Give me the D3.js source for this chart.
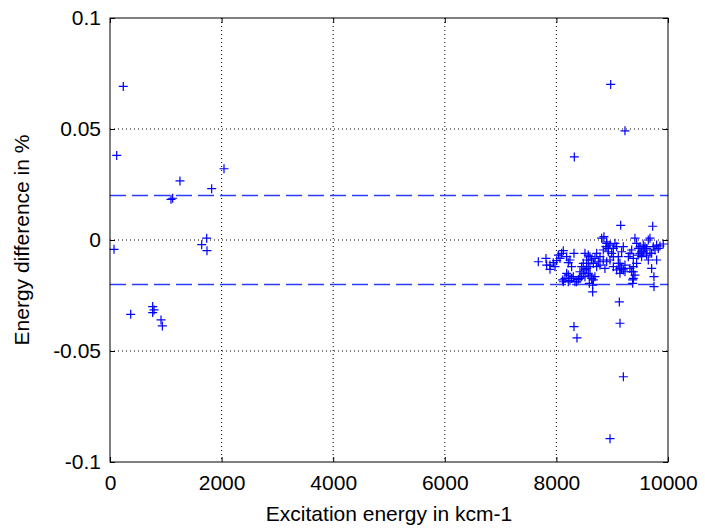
<!DOCTYPE html>
<html>
<head>
<meta charset="utf-8">
<script src="https://cdn.jsdelivr.net/npm/d3@7"></script>
<style>
  body { margin: 0; background: #fff; }
  text { font-family: "Liberation Sans", Arial, sans-serif; }
</style>
</head>
<body>
<div id="chart"></div>
<script>
const width = 705, height = 530;
const margin = { top: 18, right: 37, bottom: 68, left: 110 };

// tick values
const xTicks = [0, 2000, 4000, 6000, 8000, 10000];
const yTicks = [-0.1, -0.05, 0, 0.05, 0.1];
// dashed limit lines
const limits = [0.02, -0.02];

// low-energy points [excitation, difference]
const lowPoints = [
  [238, 0.0692], [120, 0.0381], [1254, 0.0266], [1822, 0.0231], [2043, 0.0321],
  [1093, 0.0183], [1123, 0.0188], [72, -0.0042], [1643, -0.0021], [1733, 0.0008],
  [1738, -0.0048], [371, -0.0335], [765, -0.0300], [789, -0.0315], [765, -0.0327],
  [914, -0.0360], [938, -0.0387]
];

// isolated points in the high range
const outliers = [
  [8973, 0.0701], [9229, 0.0492], [8321, 0.0374], [9152, 0.0066], [9726, 0.0062],
  [8650, -0.0234], [9128, -0.0279], [9140, -0.0375], [8315, -0.0390], [8369, -0.0441],
  [9200, -0.0616], [8961, -0.0895], [9749, -0.0210]
];

// dense cluster 7600-9900
const cluster = [
  [7676, -0.0098], [7813, -0.0083], [7825, -0.0113], [7885, -0.0132], [7944, -0.0102],
  [8005, -0.0093], [7975, -0.0120], [7885, -0.0113], [8094, -0.0060], [8124, -0.0048],
  [8184, -0.0075], [8243, -0.0090], [8315, -0.0060], [8213, -0.0102], [8273, -0.0120],
  [8112, -0.0180], [8154, -0.0173], [8213, -0.0158], [8243, -0.0183], [8303, -0.0165],
  [8363, -0.0188], [8393, -0.0177], [8422, -0.0173], [8184, -0.0150], [8124, -0.0188],
  [8512, -0.0060], [8572, -0.0068], [8602, -0.0075], [8632, -0.0090], [8662, -0.0105],
  [8691, -0.0083], [8722, -0.0060], [8751, -0.0098], [8482, -0.0105], [8453, -0.0120],
  [8512, -0.0135], [8542, -0.0128], [8572, -0.0150], [8602, -0.0158], [8632, -0.0173],
  [8662, -0.0180], [8691, -0.0165], [8422, -0.0143], [8482, -0.0150], [8722, -0.0120],
  [8781, -0.0113], [8650, -0.0203], [8590, -0.0195], [8811, 0.0008], [8852, 0.0015],
  [8888, -0.0030], [8901, -0.0015], [8930, -0.0053], [8840, -0.0045], [8960, -0.0023],
  [8990, -0.0060], [9020, -0.0038], [9050, -0.0015], [9080, -0.0030], [9110, -0.0075],
  [9139, -0.0105], [9169, -0.0128], [9199, -0.0135], [9229, -0.0113], [8960, -0.0090],
  [8901, -0.0098], [8870, -0.0128], [9020, -0.0120], [9080, -0.0135], [9139, -0.0150],
  [9199, -0.0030], [9169, -0.0053], [9289, -0.0075], [9318, -0.0060], [9349, -0.0045],
  [9378, -0.0083], [9408, 0.0008], [9438, -0.0015], [9468, -0.0038], [9498, -0.0060],
  [9528, -0.0053], [9557, -0.0023], [9587, -0.0045], [9617, -0.0068], [9318, -0.0128],
  [9349, -0.0143], [9378, -0.0120], [9408, -0.0158], [9367, -0.0180], [9438, -0.0105],
  [9647, 0.0000], [9677, 0.0008], [9647, -0.0090], [9707, -0.0128], [9736, -0.0030],
  [9766, -0.0045], [9796, -0.0023], [9826, -0.0038], [9856, -0.0027], [9915, -0.0018],
  [9796, -0.0090], [9748, -0.0165], [9707, -0.0060], [9677, -0.0060],
  [8901, -0.0008], [8930, -0.0038], [9020, -0.0075], [8781, -0.0075], [8840, -0.0090],
  [9498, -0.0030], [9557, -0.0053], [9528, -0.0075], [9587, -0.0030], [9468, -0.0068],
  [9617, -0.0038], [8542, -0.0090], [8602, -0.0120], [8572, -0.0105], [8512, -0.0165],
  [8453, -0.0165], [8333, -0.0188], [8273, -0.0173], [8213, -0.0188], [8064, -0.0083],
  [8035, -0.0068], [9378, -0.0143], [9378, -0.0173], [9367, -0.0195], [9139, -0.0128],
  [9110, -0.0105], [9229, -0.0143]
];

const points = lowPoints.concat(outliers, cluster);

const w = width - margin.left - margin.right;
const h = height - margin.top - margin.bottom;

const x = d3.scaleLinear().domain([0, 10000]).range([0, w]);
const y = d3.scaleLinear().domain([-0.1, 0.1]).range([h, 0]);

const svg = d3.select("#chart").append("svg")
    .attr("width", width)
    .attr("height", height);

const g = svg.append("g")
    .attr("transform", `translate(${margin.left},${margin.top})`);

// grid
g.append("g").selectAll("line")
    .data(xTicks.slice(1, -1))
    .join("line")
    .attr("x1", d => x(d)).attr("x2", d => x(d))
    .attr("y1", 0).attr("y2", h)
    .attr("stroke", "#000").attr("stroke-width", 1)
    .attr("stroke-dasharray", "1,3");

g.append("g").selectAll("line")
    .data(yTicks.slice(1, -1))
    .join("line")
    .attr("x1", 0).attr("x2", w)
    .attr("y1", d => y(d)).attr("y2", d => y(d))
    .attr("stroke", "#000").attr("stroke-width", 1)
    .attr("stroke-dasharray", "1,3");

// limit lines
g.append("g").selectAll("line")
    .data(limits)
    .join("line")
    .attr("x1", 0).attr("x2", w)
    .attr("y1", d => y(d)).attr("y2", d => y(d))
    .attr("stroke", "#2a3cff").attr("stroke-width", 1.5)
    .attr("stroke-dasharray", "16,6");

// markers
const s = 4.5;
g.append("g")
    .attr("stroke", "#0000ff").attr("stroke-width", 1.2)
    .selectAll("path")
    .data(points)
    .join("path")
    .attr("d", d => {
        const cx = x(d[0]), cy = y(d[1]);
        return `M${cx - s},${cy}H${cx + s}M${cx},${cy - s}V${cy + s}`;
    });

// axes, ticks pointing inward
const tickLen = 5;
const xAxis = d3.axisBottom(x).tickValues(xTicks).tickSize(-tickLen).tickPadding(13).tickFormat(d3.format("d"));
const xAxisTop = d3.axisTop(x).tickValues(xTicks).tickSize(-tickLen).tickFormat("");
const yAxis = d3.axisLeft(y).tickValues(yTicks).tickSize(-tickLen).tickPadding(9).tickFormat(d => d === 0 ? "0" : String(d));
const yAxisRight = d3.axisRight(y).tickValues(yTicks).tickSize(-tickLen).tickFormat("");

function styleAxis(sel) {
    sel.select(".domain").remove();
    sel.selectAll("line").attr("stroke", "#000");
    sel.selectAll("text").attr("fill", "#000").style("font-size", "21px")
        .style("font-family", "'Liberation Sans', Arial, sans-serif");
}

g.append("g").attr("transform", `translate(0,${h})`).call(xAxis).call(styleAxis);
g.append("g").call(xAxisTop).call(styleAxis);
g.append("g").call(yAxis).call(styleAxis);
g.append("g").attr("transform", `translate(${w},0)`).call(yAxisRight).call(styleAxis);

// box
g.append("rect")
    .attr("width", w).attr("height", h)
    .attr("fill", "none").attr("stroke", "#000").attr("stroke-width", 1);

// labels
svg.append("text")
    .attr("x", margin.left + w / 2).attr("y", 521)
    .attr("text-anchor", "middle")
    .style("font-size", "21px")
    .text("Excitation energy in kcm-1");

svg.append("text")
    .attr("transform", `translate(29,${margin.top + h / 2}) rotate(-90)`)
    .attr("text-anchor", "middle")
    .style("font-size", "21px")
    .text("Energy difference in %");
</script>
</body>
</html>
